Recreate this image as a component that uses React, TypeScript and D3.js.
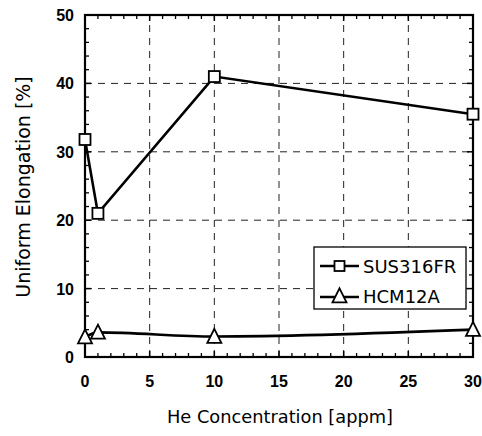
import React from "react";
import * as d3 from "d3";

const xTicks = [0, 5, 10, 15, 20, 25, 30];
const yTicks = [0, 10, 20, 30, 40, 50];
const susX = [0, 1, 10, 30];
const susY = [31.8, 21.0, 41.0, 35.5];
const hcmX = [0, 1, 10, 30];
const hcmY = [2.9, 3.6, 3.0, 4.0];
const seriesNames = ["SUS316FR", "HCM12A"];

const W = 482, H = 436;
const M = { left: 85, right: 9, top: 15, bottom: 79 };

export default function App() {
  const x = d3.scaleLinear().domain([0, 30]).range([M.left, W - M.right]);
  const y = d3.scaleLinear().domain([0, 50]).range([H - M.bottom, M.top]);
  const font = "'DejaVu Sans', Verdana, sans-serif";
  const tickFont = "'Liberation Sans', Arial, sans-serif";
  const line = d3.line<[number, number]>().x(d => x(d[0])).y(d => y(d[1]));
  const sus: [number, number][] = susX.map((v, i) => [v, susY[i]]);
  const hcm: [number, number][] = hcmX.map((v, i) => [v, hcmY[i]]);
  const minorX = d3.range(1, 30).filter(v => v % 5 !== 0);
  const minorY = d3.range(2, 50, 2).filter(v => v % 10 !== 0);
  const sq = 11;
  const tri = (cx: number, cy: number, s = 14) =>
    `M${cx},${cy - s * 0.55}L${cx + s / 2},${cy + s * 0.45}L${cx - s / 2},${cy + s * 0.45}Z`;
  const x0 = x(0), x1 = x(30), y0 = y(0), y1 = y(50);
  const lg = { x: 314, y: 247, w: 152, h: 62 };
  return (
    <svg width={W} height={H} style={{ display: "block", position: "absolute", left: 0, top: 0 }}>
      <rect width={W} height={H} fill="#fff" />
      {/* grid */}
      {xTicks.slice(1, -1).map(v => (
        <line key={"gx" + v} x1={x(v)} x2={x(v)} y1={y0} y2={y1} stroke="#222" strokeWidth={1} strokeDasharray="7,6" />
      ))}
      {yTicks.slice(1, -1).map(v => (
        <line key={"gy" + v} x1={x0} x2={x1} y1={y(v)} y2={y(v)} stroke="#222" strokeWidth={1} strokeDasharray="7,6" />
      ))}
      {/* minor ticks */}
      {minorX.map(v => (
        <g key={"mx" + v}>
          <line x1={x(v)} x2={x(v)} y1={y0} y2={y0 - 4} stroke="#000" strokeWidth={1.3} />
          <line x1={x(v)} x2={x(v)} y1={y1} y2={y1 + 4} stroke="#000" strokeWidth={1.3} />
        </g>
      ))}
      {minorY.map(v => (
        <g key={"my" + v}>
          <line x1={x0} x2={x0 + 4} y1={y(v)} y2={y(v)} stroke="#000" strokeWidth={1.3} />
          <line x1={x1} x2={x1 - 4} y1={y(v)} y2={y(v)} stroke="#000" strokeWidth={1.3} />
        </g>
      ))}
      {xTicks.map(v => (
        <g key={"tx" + v}>
          <line x1={x(v)} x2={x(v)} y1={y0} y2={y0 - 6} stroke="#000" strokeWidth={1.5} />
          <line x1={x(v)} x2={x(v)} y1={y1} y2={y1 + 6} stroke="#000" strokeWidth={1.5} />
        </g>
      ))}
      {yTicks.map(v => (
        <g key={"ty" + v}>
          <line x1={x0} x2={x0 + 6} y1={y(v)} y2={y(v)} stroke="#000" strokeWidth={1.5} />
          <line x1={x1} x2={x1 - 6} y1={y(v)} y2={y(v)} stroke="#000" strokeWidth={1.5} />
        </g>
      ))}
      {/* frame */}
      <rect x={x0} y={y1} width={x1 - x0} height={y0 - y1} fill="none" stroke="#000" strokeWidth={2.2} />
      {/* tick labels */}
      {xTicks.map(v => (
        <text key={"lx" + v} x={x(v)} y={y0 + 30} textAnchor="middle" fontFamily={tickFont} fontWeight="bold" fontSize={16}>{v}</text>
      ))}
      {yTicks.map(v => (
        <text key={"ly" + v} x={x0 - 11} y={y(v) + 6} textAnchor="end" fontFamily={tickFont} fontWeight="bold" fontSize={16}>{v}</text>
      ))}
      {/* titles */}
      <text x={280} y={423} textAnchor="middle" fontFamily={font} fontSize={17.8}>He Concentration [appm]</text>
      <text transform={`translate(30,187) rotate(-90)`} textAnchor="middle" fontFamily={font} fontSize={19}>Uniform Elongation [%]</text>
      {/* series */}
      <path d={line(sus) || ""} fill="none" stroke="#000" strokeWidth={2.6} />
      <path d={line.curve(d3.curveMonotoneX)(hcm) || ""} fill="none" stroke="#000" strokeWidth={2.6} />
      {sus.map((d, i) => (
        <rect key={"s" + i} x={x(d[0]) - sq / 2} y={y(d[1]) - sq / 2} width={sq} height={sq} fill="#fff" stroke="#000" strokeWidth={1.8} />
      ))}
      {hcm.map((d, i) => (
        <path key={"h" + i} d={tri(x(d[0]), y(d[1]))} fill="#fff" stroke="#000" strokeWidth={1.8} />
      ))}
      {/* legend */}
      <rect x={lg.x} y={lg.y} width={lg.w} height={lg.h} fill="#fff" stroke="#000" strokeWidth={1.3} />
      <line x1={320} x2={359} y1={266} y2={266} stroke="#000" strokeWidth={2.6} />
      <rect x={339.5 - 5} y={266 - 5} width={10} height={10} fill="#fff" stroke="#000" strokeWidth={1.8} />
      <text x={363} y={272.5} fontFamily={font} fontSize={18}>{seriesNames[0]}</text>
      <line x1={320} x2={359} y1={297} y2={297} stroke="#000" strokeWidth={2.6} />
      <path d={tri(339.5, 296, 14)} fill="#fff" stroke="#000" strokeWidth={1.8} />
      <text x={363} y={302.5} fontFamily={font} fontSize={18}>{seriesNames[1]}</text>
    </svg>
  );
}
